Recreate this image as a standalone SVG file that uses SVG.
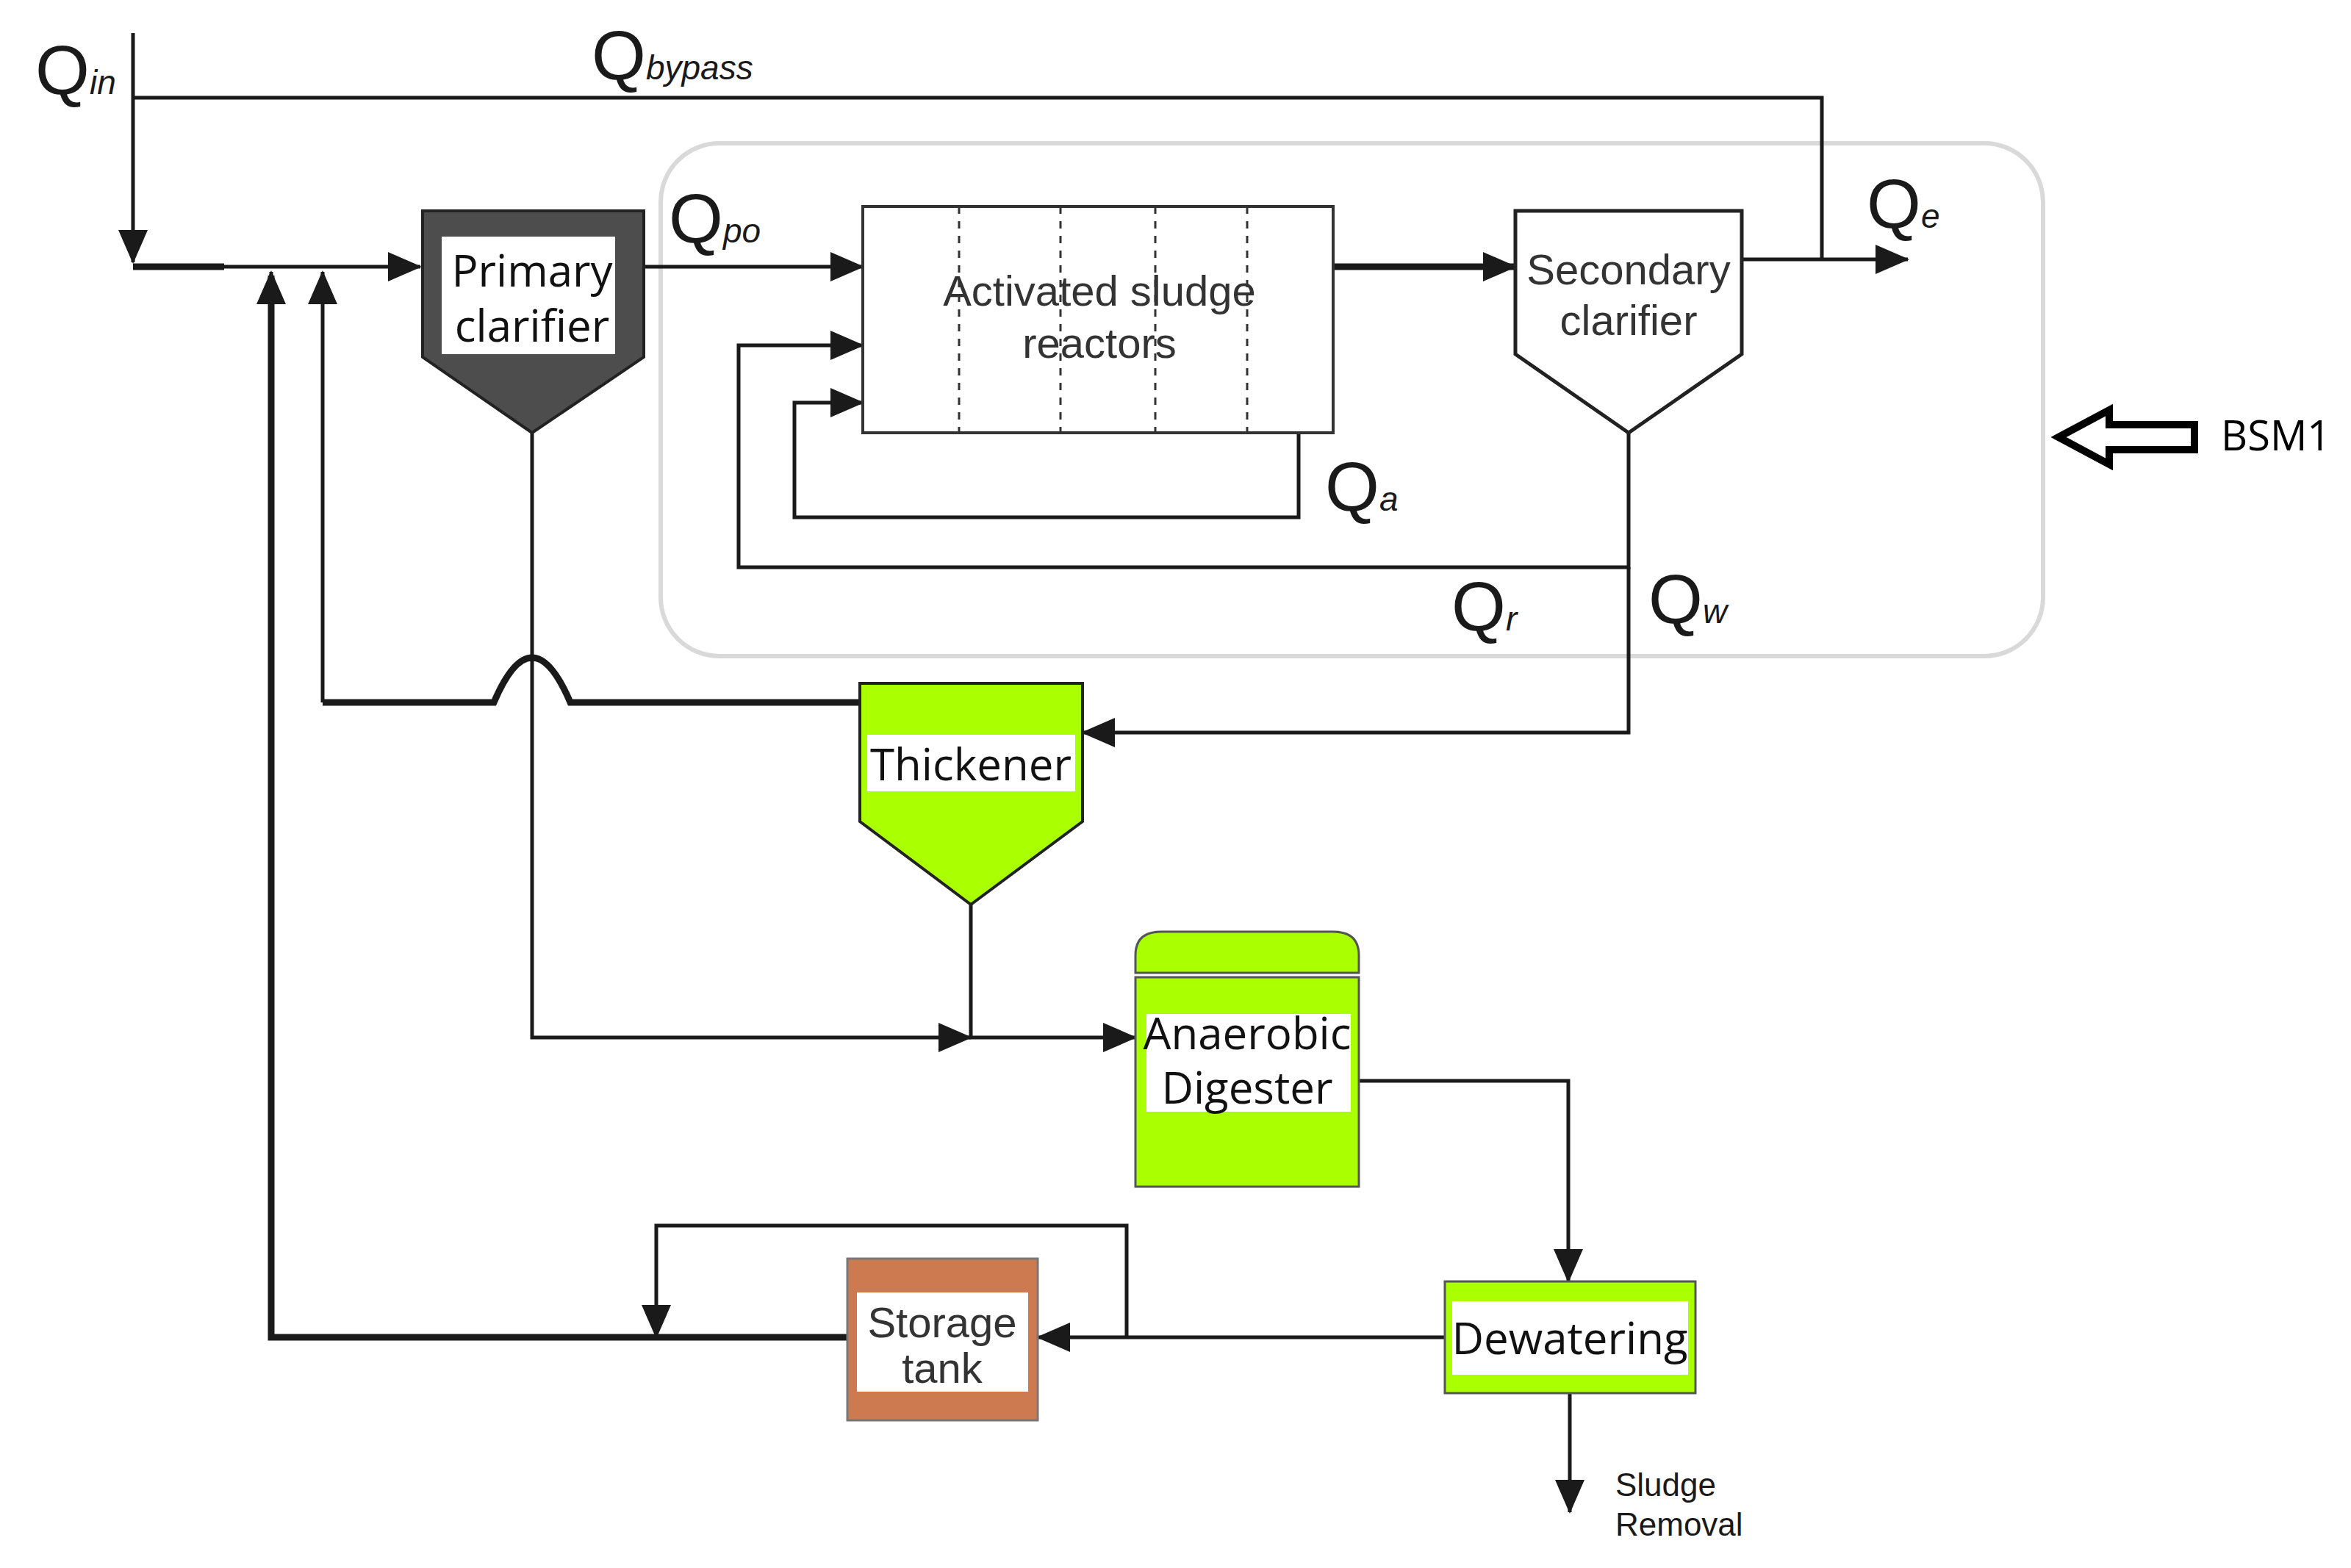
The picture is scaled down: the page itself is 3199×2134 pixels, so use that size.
<svg xmlns="http://www.w3.org/2000/svg" width="3199" height="2134" viewBox="0 0 3199 2134">
<defs>
<marker id="ah" markerUnits="userSpaceOnUse" markerWidth="46" markerHeight="40" refX="44" refY="20" orient="auto"><path d="M0,0 L46,20 L0,40 Z" fill="#1a1a1a"/></marker>
</defs>
<style>
.c{fill:none;stroke:#1a1a1a;stroke-width:5}
.t{fill:none;stroke:#1a1a1a;stroke-width:9}
.q{font-family:"Liberation Sans",Arial,sans-serif;fill:#1a1a1a}
.n{font-family:"Open Sans","Noto Sans",sans-serif;fill:#111;font-size:60px;text-anchor:middle}
.g{font-family:"Liberation Sans",Arial,sans-serif;fill:#333;font-size:58px;text-anchor:middle}
</style>
<rect x="0" y="0" width="3199" height="2134" fill="#fff"/>
<rect id="bsm1box" x="899" y="195" width="1881" height="698" rx="80" fill="none" stroke="#d9d9d9" stroke-width="6"/>
<g id="connectors">
<path class="c" d="M181,45 V357" marker-end="url(#ah)"/>
<path class="c" d="M181,133 H2479 V353"/>
<path class="t" d="M181,363 H305"/>
<path class="c" d="M305,363 H572" marker-end="url(#ah)"/>
<path class="c" d="M876,363 H1174" marker-end="url(#ah)"/>
<path class="t" d="M1814,363 H2062" marker-end="url(#ah)"/>
<path class="c" d="M2370,353 H2596" marker-end="url(#ah)"/>
<path class="c" d="M1767,589 V704 H1081 V548 H1174" marker-end="url(#ah)"/>
<path class="c" d="M2216,589 V772 H1005 V470 H1174" marker-end="url(#ah)"/>
<path class="c" d="M2216,772 V997 H1473" marker-end="url(#ah)"/>
<path class="t" d="M1170,956 H776 Q750,895 724,895 Q698,895 672,956 H439" />
<path class="c" d="M439,956 V370" marker-end="url(#ah)"/>
<path class="c" d="M724,589 V1412 H1321" marker-end="url(#ah)"/>
<path class="c" d="M1321,1231 V1412 H1545" marker-end="url(#ah)"/>
<path class="c" d="M1849,1471 H2134 V1744" marker-end="url(#ah)"/>
<path class="c" d="M2136,1896 V2058" marker-end="url(#ah)"/>
<path class="c" d="M1966,1820 H1412" marker-end="url(#ah)"/>
<path class="c" d="M1533,1820 V1668 H893 V1820" marker-end="url(#ah)"/>
<path class="t" d="M1153,1820 H369 V375"/>
<path class="c" d="M369,390 V370" marker-end="url(#ah)"/>
</g>
<g id="primary">
<path d="M575,287 H876 V486 L724,589 L575,486 Z" fill="#4d4d4d" stroke="#222" stroke-width="4"/>
<rect x="601" y="322" width="236" height="160" fill="#fff"/>
<text class="n" x="724" y="390">Primary</text>
<text class="n" x="724" y="465">clarifier</text>
</g>
<g id="reactors">
<rect x="1174" y="281" width="640" height="308" fill="#fff" stroke="#333" stroke-width="4"/>
<path d="M1305,281V589M1443,281V589M1572,281V589M1697,281V589" stroke="#333" stroke-width="3" stroke-dasharray="10,10"/>
<text class="g" x="1496" y="416">Activated sludge</text>
<text class="g" x="1496" y="487">reactors</text>
</g>
<g id="secondary">
<path d="M2062,287 H2370 V482 L2216,589 L2062,482 Z" fill="#fff" stroke="#222" stroke-width="5"/>
<text class="g" x="2216" y="387">Secondary</text>
<text class="g" x="2216" y="456">clarifier</text>
</g>
<g id="thickener">
<path d="M1170,930 H1473 V1118 L1321,1231 L1170,1118 Z" fill="#aaff00" stroke="#222" stroke-width="4"/>
<rect x="1180" y="1000" width="283" height="77" fill="#fff"/>
<text class="n" x="1321" y="1062">Thickener</text>
</g>
<g id="digester">
<path d="M1545,1324 V1300 Q1545,1268 1580,1268 H1814 Q1849,1268 1849,1300 V1324 Z" fill="#aaff00" stroke="#555" stroke-width="3"/>
<rect x="1545" y="1330" width="304" height="285" fill="#aaff00" stroke="#555" stroke-width="3"/>
<rect x="1560" y="1380" width="278" height="133" fill="#fff"/>
<text class="n" x="1697" y="1428" font-size="52">Anaerobic</text>
<text class="n" x="1697" y="1502" font-size="52">Digester</text>
</g>
<g id="dewatering">
<rect x="1966" y="1744" width="341" height="152" fill="#aaff00" stroke="#555" stroke-width="3"/>
<rect x="1976" y="1771" width="321" height="100" fill="#fff"/>
<text class="n" x="2136" y="1843">Dewatering</text>
</g>
<g id="storage">
<rect x="1153" y="1713" width="259" height="220" fill="#cd7a50" stroke="#777" stroke-width="3"/>
<rect x="1166" y="1759" width="233" height="135" fill="#fff"/>
<text class="g" x="1282" y="1820">Storage</text>
<text class="g" x="1282" y="1882">tank</text>
</g>
<g id="labels">
<text class="q" x="48" y="128" font-size="95">Q<tspan font-size="46" font-style="italic">in</tspan></text>
<text class="q" x="805" y="108" font-size="95">Q<tspan font-size="46" font-style="italic">bypass</tspan></text>
<text class="q" x="910" y="330" font-size="95">Q<tspan font-size="46" font-style="italic">po</tspan></text>
<text class="q" x="2540" y="310" font-size="95">Q<tspan font-size="46" font-style="italic">e</tspan></text>
<text class="q" x="1803" y="695" font-size="95">Q<tspan font-size="46" font-style="italic">a</tspan></text>
<text class="q" x="1975" y="858" font-size="95">Q<tspan font-size="46" font-style="italic">r</tspan></text>
<text class="q" x="2243" y="848" font-size="95">Q<tspan font-size="46" font-style="italic">w</tspan></text>
<text class="q" x="2198" y="2036" font-size="44" fill="#333">Sludge</text>
<text class="q" x="2198" y="2090" font-size="44" fill="#333">Removal</text>
</g>
<g id="bsm1">
<path d="M2801,595 L2870,558 V578 H2986 V612 H2870 V632 Z" fill="#fff" stroke="#000" stroke-width="10" stroke-linejoin="miter"/>
<text x="3022" y="613" font-family="Open Sans,Noto Sans,sans-serif" font-size="56" fill="#000">BSM1</text>
</g>
</svg>
